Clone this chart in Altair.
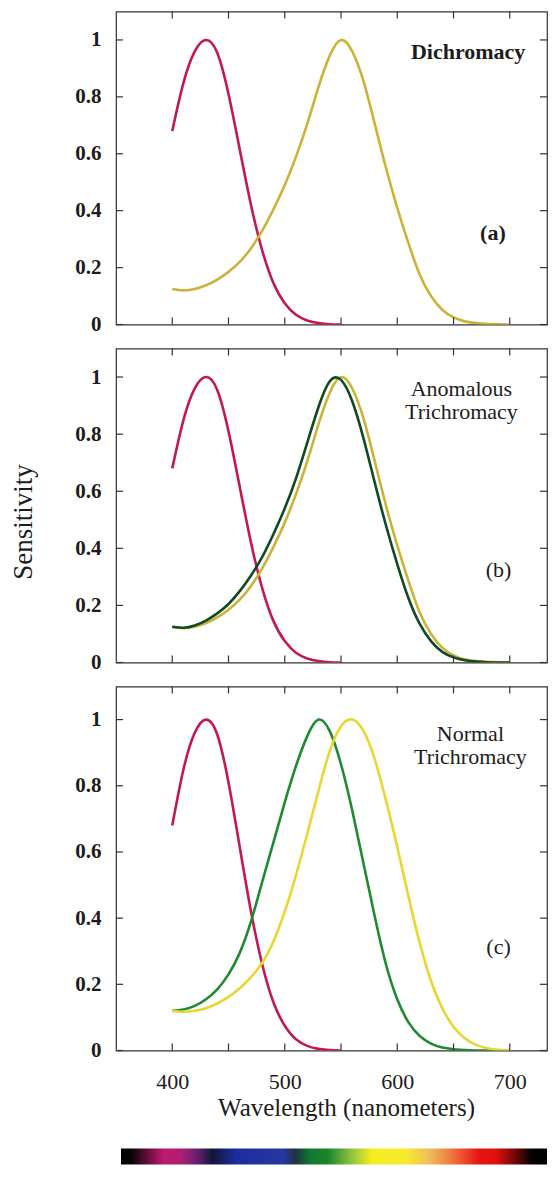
import altair as alt
import pandas as pd

# ---------------- data ----------------
WAVELENGTHS = list(range(400, 701, 10))

# short-wavelength cone, identical in all panels; ends near 550 nm
S_CONE = [0.68, 0.85, 0.96, 1.0, 0.955, 0.81, 0.615, 0.42, 0.26, 0.145,
          0.075, 0.034, 0.014, 0.005, 0.001, 0.0] + [None] * 15

# (a) dichromat long-wave curve, also drawn in (b)
L_DICHROMAT = [0.125, 0.12, 0.125, 0.138, 0.158, 0.185, 0.22, 0.268, 0.33, 0.405,
               0.49, 0.59, 0.705, 0.835, 0.945, 1.0, 0.96, 0.855, 0.705, 0.55,
               0.41, 0.285, 0.175, 0.1, 0.052, 0.025, 0.011, 0.005, 0.002, 0.001, 0.0]
L_ANOMALOUS = L_DICHROMAT

# (b) anomalous middle-wave curve
M_ANOMALOUS = [0.125, 0.122, 0.13, 0.147, 0.172, 0.205, 0.25, 0.305, 0.37, 0.45,
               0.54, 0.645, 0.77, 0.895, 0.985, 0.99, 0.915, 0.785, 0.63, 0.48,
               0.345, 0.225, 0.135, 0.075, 0.037, 0.018, 0.008, 0.003, 0.001, 0.0, 0.0]

# (c) normal trichromat
M_NORMAL = [0.12, 0.124, 0.135, 0.155, 0.185, 0.23, 0.295, 0.39, 0.51, 0.63,
            0.75, 0.86, 0.95, 1.0, 0.965, 0.865, 0.725, 0.565, 0.405, 0.26,
            0.155, 0.085, 0.044, 0.021, 0.009, 0.004, 0.001, 0.0, 0.0, 0.0, 0.0]
L_NORMAL = [0.12, 0.117, 0.12, 0.128, 0.142, 0.162, 0.188, 0.222, 0.265, 0.33,
            0.42, 0.53, 0.655, 0.785, 0.905, 0.98, 1.0, 0.965, 0.88, 0.755,
            0.615, 0.465, 0.325, 0.21, 0.128, 0.072, 0.037, 0.017, 0.007, 0.002, 0.0]

X_TICKS = [400, 450, 500, 550, 600, 650, 700]
X_LABELS = [400, 500, 600, 700]
Y_TICKS = [0, 0.2, 0.4, 0.6, 0.8, 1.0]

# annotation texts: (text, wavelength, sensitivity, bold)
NOTES_A = [("Dichromacy", 663, 0.956, True), ("(a)", 685, 0.32, True)]
NOTES_B = [("Anomalous", 657, 0.957, False), ("Trichromacy", 657, 0.876, False),
           ("(b)", 690, 0.323, False)]
NOTES_C = [("Normal", 665, 0.957, False), ("Trichromacy", 665, 0.886, False),
           ("(c)", 690, 0.314, False)]

# spectrum strip colours (offset along strip, colour)
SPECTRUM = [(0.0, "#000000"), (0.025, "#0a0306"), (0.045, "#3a0a22"), (0.10, "#bd1a6e"),
            (0.14, "#b01e72"), (0.18, "#642070"), (0.215, "#121636"), (0.27, "#1e2c9c"),
            (0.38, "#2438a0"), (0.41, "#1e3440"), (0.445, "#127a2e"), (0.485, "#1a842c"),
            (0.54, "#92c23e"), (0.59, "#f6ee22"), (0.67, "#f6ea2a"), (0.72, "#f0c05a"),
            (0.77, "#ef8040"), (0.84, "#e81414"), (0.88, "#e01010"), (0.93, "#600808"),
            (0.965, "#000000"), (1.0, "#000000")]

# ---------------- styling ----------------
FONT = "Liberation Serif"
INK = "#1c1c1c"
FRAME = "#333333"
MAGENTA = "#c2185b"
MUSTARD = "#c9b437"
DARK_GREEN = "#0f4a22"
GREEN = "#1f8a30"
YELLOW = "#e5d830"

X_DOMAIN = [350, 733.1]
Y_DOMAIN = [0, 1.1]
PLOT_W = 431
TICK = 7


def panel(series, notes, height, x_labels=False, y_title=False):
    xs = alt.Scale(domain=X_DOMAIN, nice=False, zero=False)
    ys = alt.Scale(domain=Y_DOMAIN, nice=False, zero=False)

    if x_labels:
        bottom = alt.Axis(orient="bottom", values=X_LABELS, ticks=False, domain=False,
                          grid=False, labelFont=FONT, labelFontSize=22, labelColor=INK,
                          labelPadding=20.5, labelFlush=False, labelOverlap=False,
                          title="Wavelength (nanometers)", titleFont=FONT,
                          titleFontSize=25, titleFontWeight="normal", titleColor=INK,
                          titlePadding=3, titleX=230)
    else:
        bottom = None

    left_kw = dict(orient="left", values=Y_TICKS, format="~g", ticks=False, domain=False,
                   grid=False, labelFont=FONT, labelFontSize=21, labelFontWeight="bold",
                   labelColor=INK, labelPadding=15, labelFlush=False, labelOverlap=False)
    if y_title:
        left = alt.Axis(title="Sensitivity", titleFont=FONT, titleFontSize=27,
                        titleFontWeight="normal", titleColor=INK, titleAngle=270,
                        titleAlign="center", titleBaseline="middle",
                        titleX=-93, titleY=173, **left_kw)
    else:
        left = alt.Axis(title=None, **left_kw)

    X = lambda: alt.X("wl:Q", scale=xs, axis=bottom)
    Y = lambda: alt.Y("v:Q", scale=ys, axis=left)

    layers = []
    for name, vals, color in series:
        df = pd.DataFrame({"wl": WAVELENGTHS, "v": vals})
        df["v"] = pd.to_numeric(df["v"])
        df = df.dropna()
        layers.append(
            alt.Chart(df).mark_line(color=color, strokeWidth=2.6,
                                    interpolate="natural", clip=True).encode(x=X(), y=Y())
        )

    xt = pd.DataFrame({"wl": X_TICKS})
    yt = pd.DataFrame({"v": Y_TICKS})
    rule = dict(color=FRAME, strokeWidth=1.2)
    layers.append(alt.Chart(xt).mark_rule(**rule).encode(
        x=X(), y=alt.value(0), y2=alt.value(TICK)))
    layers.append(alt.Chart(xt).mark_rule(**rule).encode(
        x=X(), y=alt.value(height - TICK), y2=alt.value(height)))
    layers.append(alt.Chart(yt).mark_rule(**rule).encode(
        y=Y(), x=alt.value(0), x2=alt.value(TICK)))
    layers.append(alt.Chart(yt).mark_rule(**rule).encode(
        y=Y(), x=alt.value(PLOT_W - TICK), x2=alt.value(PLOT_W)))

    for text, wl, v, bold in notes:
        ndf = pd.DataFrame({"wl": [wl], "v": [v], "t": [text]})
        layers.append(
            alt.Chart(ndf).mark_text(font=FONT, fontSize=22, color=INK,
                                     fontWeight="bold" if bold else "normal",
                                     align="center", baseline="middle").encode(
                x=X(), y=Y(), text="t:N")
        )
    return alt.layer(*layers).properties(width=PLOT_W, height=height)


pa = panel([("S", S_CONE, MAGENTA), ("L", L_DICHROMAT, MUSTARD)], NOTES_A, 313)
pb = panel([("S", S_CONE, MAGENTA), ("L", L_ANOMALOUS, MUSTARD), ("M", M_ANOMALOUS, DARK_GREEN)],
           NOTES_B, 314, y_title=True)
pc = panel([("S", S_CONE, MAGENTA), ("M", M_NORMAL, GREEN), ("L", L_NORMAL, YELLOW)],
           NOTES_C, 364, x_labels=True)

gradient = alt.Gradient(gradient="linear",
                        stops=[alt.GradientStop(offset=o, color=c) for o, c in SPECTRUM],
                        x1=0, x2=1, y1=0, y2=0)
bar = alt.Chart(pd.DataFrame({"k": [0]})).mark_rect(color=gradient).encode(
    x=alt.value(5), x2=alt.value("width"), y=alt.value(15), y2=alt.value("height")
).properties(width=PLOT_W, height=31, view=alt.ViewBackground(stroke="transparent"))

chart = alt.vconcat(pa, pb, pc, bar, spacing=11).properties(
    padding={"left": 0, "top": 1.5, "right": 0, "bottom": 0},
    background="white",
).configure_view(stroke=FRAME, strokeWidth=1.2)

chart.save("out.html", embed_options={"renderer": "svg", "actions": False})
